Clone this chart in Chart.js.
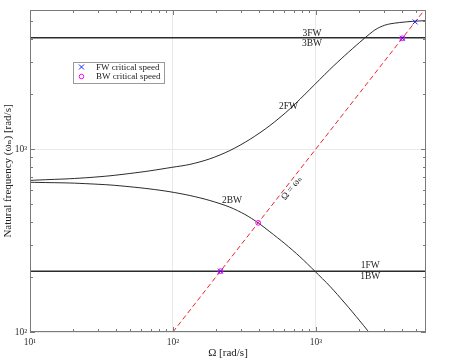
<!DOCTYPE html>
<html>
<head>
<meta charset="utf-8">
<script src="https://cdn.jsdelivr.net/npm/chart.js@4.4.1/dist/chart.umd.min.js"></script>
<style>
    html, body { margin: 0; padding: 0; background: #fff; }
</style>
</head>
<body>
<canvas id="campbell" width="474" height="360"></canvas>
<script>
// Diagrama de Campbell: velocidad del rotor vs frecuencias naturales
var speedRange = [10, 5900];
var freqRange = [100, 5750];

var flatSpeeds = [10, 5900];
var mode1 = [215, 215];      // 1FW / 1BW
var mode3 = [4050, 4050];    // 3FW / 3BW

var speed2FW = [10, 13.8, 19, 26.3, 36.3, 50, 69.1, 98.4, 131.5, 181.5, 250.4, 345.6, 476.8, 658, 908,
    1253, 1595, 2031, 2386, 2586, 2803, 3037, 3292, 3868, 4768, 5877];
var freq2FW = [674, 681, 688, 699, 714, 735, 760, 794, 824, 884, 981, 1129, 1343, 1656, 2117,
    2719, 3243, 3833, 4261, 4470, 4631, 4749, 4827, 4912, 4986, 5030];

var speed2BW = [10, 13.8, 19, 26.3, 36.3, 50, 69.1, 95.3, 131.5, 181.5, 250.4, 318.8, 395, 476.8, 607,
    773, 984, 1253, 1595, 2031, 2586];
var freq2BW = [658, 655, 652, 645, 636, 622, 605, 584, 557, 523, 481, 439, 395, 353, 304,
    258, 215, 178, 144, 115, 91];

var syncSpeeds = [100, 5900]; // recta Omega = omega_n
var fwCritical = [215, 4030, 4950];
var bwCritical = [215, 395, 4030];

var serif = "'Liberation Serif', 'DejaVu Serif', serif";
var sup = { '1': '\u00b9', '2': '\u00b2', '3': '\u00b3' };

var pairs = function (xs, ys) {
    return xs.map(function (v, i) { return { x: v, y: ys[i] }; });
};
var isDecade = function (v) {
    if (!v) return false;
    var l = Math.log10(v);
    return Math.abs(l - Math.round(l)) < 1e-6;
};
var decadeLabel = function (v) {
    return isDecade(v) ? '10' + sup[String(Math.round(Math.log10(v)))] : '';
};

// textos sobre el grafico, en coordenadas de datos
var notes = [
    { text: '3FW', x: 940, y: 4285 },
    { text: '3BW', x: 940, y: 3785 },
    { text: '1FW', x: 2405, y: 230 },
    { text: '1BW', x: 2405, y: 200 },
    { text: '2FW', x: 644, y: 1702 },
    { text: '2BW', x: 259, y: 520 }
];

var boxTicks = {
    id: 'boxTicks',
    afterDatasetsDraw: function (chart) {
        var ctx = chart.ctx, a = chart.chartArea;
        var xs = chart.scales.x, ys = chart.scales.y;
        ctx.save();
        ctx.strokeStyle = '#7a7a7a';
        ctx.lineWidth = 1;
        ctx.strokeRect(a.left + 0.5, a.top + 0.5, a.right - a.left - 1, a.bottom - a.top - 1);
        var eachTick = function (min, max, fn) {
            for (var k = Math.floor(Math.log10(min)); k <= Math.ceil(Math.log10(max)); k++) {
                for (var m = 1; m <= 9; m++) {
                    var v = m * Math.pow(10, k);
                    if (v >= min && v <= max) fn(v, m === 1);
                }
            }
        };
        ctx.beginPath();
        eachTick(speedRange[0], speedRange[1], function (v, major) {
            var px = Math.round(xs.getPixelForValue(v)) + 0.5;
            var len = major ? 5 : 3;
            ctx.moveTo(px, a.bottom); ctx.lineTo(px, a.bottom - len);
            ctx.moveTo(px, a.top); ctx.lineTo(px, a.top + len);
        });
        eachTick(freqRange[0], freqRange[1], function (v, major) {
            var py = Math.round(ys.getPixelForValue(v)) + 0.5;
            var len = major ? 5 : 3;
            ctx.moveTo(a.left, py); ctx.lineTo(a.left + len, py);
            ctx.moveTo(a.right, py); ctx.lineTo(a.right - len, py);
        });
        ctx.stroke();
        ctx.restore();
    },
    afterDraw: function (chart) {
        var ctx = chart.ctx, a = chart.chartArea;
        var xs = chart.scales.x, ys = chart.scales.y;
        ctx.save();
        ctx.fillStyle = '#222';
        ctx.font = '9.5px ' + serif;
        ctx.textAlign = 'center';
        ctx.textBaseline = 'middle';
        notes.forEach(function (n) {
            ctx.fillText(n.text, xs.getPixelForValue(n.x), ys.getPixelForValue(n.y));
        });

        // etiqueta inclinada sobre la recta sincronica
        var x1 = xs.getPixelForValue(100), y1 = ys.getPixelForValue(100);
        var x2 = xs.getPixelForValue(1000), y2 = ys.getPixelForValue(1000);
        ctx.translate(xs.getPixelForValue(679), ys.getPixelForValue(612));
        ctx.rotate(Math.atan2(y2 - y1, x2 - x1));
        ctx.fillText('\u03a9 = \u03c9\u2099', 0, 0);
        ctx.restore();

        // leyenda dentro del area
        ctx.save();
        var lx = a.left + 43, ly = a.top + 52, lw = 91, lh = 21;
        ctx.fillStyle = '#fff';
        ctx.fillRect(lx, ly, lw, lh);
        ctx.strokeStyle = '#9a9a9a';
        ctx.lineWidth = 1;
        ctx.strokeRect(lx + 0.5, ly + 0.5, lw, lh);
        ctx.strokeStyle = '#1f1fff';
        ctx.beginPath();
        ctx.moveTo(lx + 6, ly + 2.5); ctx.lineTo(lx + 11, ly + 7.5);
        ctx.moveTo(lx + 11, ly + 2.5); ctx.lineTo(lx + 6, ly + 7.5);
        ctx.stroke();
        ctx.strokeStyle = '#ff00ff';
        ctx.beginPath();
        ctx.arc(lx + 8.5, ly + 14.5, 2.3, 0, Math.PI * 2);
        ctx.stroke();
        ctx.fillStyle = '#222';
        ctx.font = '9px ' + serif;
        ctx.textAlign = 'left';
        ctx.textBaseline = 'middle';
        ctx.fillText('FW critical speed', lx + 23, ly + 5.5);
        ctx.fillText('BW critical speed', lx + 23, ly + 15);
        ctx.restore();
    }
};

var curve = function (data, width) {
    return {
        data: data,
        showLine: true,
        borderColor: '#2b2b2b',
        borderWidth: width,
        pointRadius: 0,
        tension: 0.3,
        order: 5
    };
};

var datasets = [
    {
        data: pairs(fwCritical, fwCritical),
        pointStyle: 'crossRot',
        pointRadius: 3.5,
        borderColor: '#1f1fff',
        borderWidth: 1,
        order: 1
    },
    {
        data: pairs(bwCritical, bwCritical),
        pointStyle: 'circle',
        pointRadius: 2.4,
        borderColor: '#ff00ff',
        backgroundColor: 'rgba(0,0,0,0)',
        borderWidth: 1,
        order: 0
    },
    {
        data: pairs(syncSpeeds, syncSpeeds),
        showLine: true,
        borderColor: '#e8242c',
        borderWidth: 1,
        borderDash: [5, 3],
        pointRadius: 0,
        order: 4
    },
    curve(pairs(flatSpeeds, mode1), 1.5),
    curve(pairs(flatSpeeds, mode3), 1.5),
    curve(pairs(speed2FW, freq2FW), 1),
    curve(pairs(speed2BW, freq2BW), 1)
];

var gridColor = function (c) {
    return c.tick && isDecade(c.tick.value) ? '#e9e9e9' : 'rgba(0,0,0,0)';
};

new Chart(document.getElementById('campbell'), {
    type: 'scatter',
    data: { datasets: datasets },
    options: {
        responsive: false,
        animation: false,
        events: [],
        layout: { padding: { top: 10, right: 48, left: 0, bottom: 0 } },
        plugins: { legend: { display: false }, tooltip: { enabled: false } },
        scales: {
            x: {
                type: 'logarithmic',
                min: speedRange[0],
                max: speedRange[1],
                border: { display: false },
                grid: { color: gridColor, drawTicks: false },
                ticks: {
                    autoSkip: false, maxRotation: 0, padding: 5,
                    color: '#333', font: { family: serif, size: 9.5 },
                    callback: function (v) { return decadeLabel(v); }
                },
                title: {
                    display: true, text: '\u03a9 [rad/s]', color: '#222',
                    font: { family: serif, size: 11 }, padding: { top: 0, bottom: 0 }
                },
                afterFit: function (s) { s.height = 28; }
            },
            y: {
                type: 'logarithmic',
                min: freqRange[0],
                max: freqRange[1],
                border: { display: false },
                grid: { color: gridColor, drawTicks: false },
                ticks: {
                    autoSkip: false, padding: 3,
                    color: '#333', font: { family: serif, size: 9.5 },
                    callback: function (v) { return decadeLabel(v); }
                },
                title: {
                    display: true, text: 'Natural frequency (\u03c9\u2099) [rad/s]', color: '#222',
                    font: { family: serif, size: 11 }, padding: { top: 2, bottom: 0 }
                },
                afterFit: function (s) { s.width = 30; }
            }
        }
    },
    plugins: [boxTicks]
});
</script>
</body>
</html>
